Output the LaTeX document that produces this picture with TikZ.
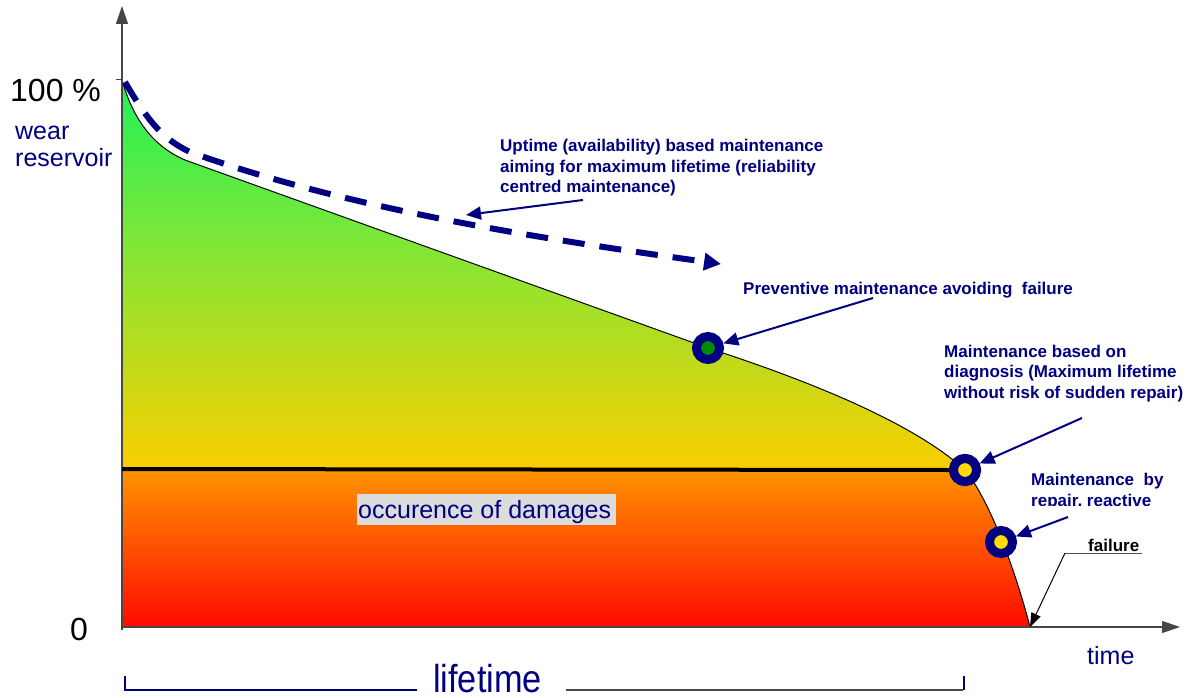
\documentclass[tikz,border=0pt]{standalone}
\usepackage{fontspec}
\setmainfont{Liberation Sans}
\usetikzlibrary{arrows.meta}
\definecolor{dnavy}{RGB}{0,0,128}
\definecolor{axisgray}{RGB}{70,70,70}
\definecolor{boxgray}{RGB}{220,220,220}
\definecolor{gtop}{RGB}{30,242,90}
\definecolor{gmid}{RGB}{145,228,48}
\definecolor{gbot}{RGB}{250,206,0}
\definecolor{otop}{RGB}{255,148,0}
\definecolor{obot}{RGB}{255,10,0}
\definecolor{dotgreen}{RGB}{0,140,0}
\definecolor{dotyellow}{RGB}{255,220,0}
\begin{document}
\begin{tikzpicture}[x=1pt,y=-1pt,
  note/.style={font=\bfseries\fontsize{17}{20.5}\selectfont, text=dnavy, align=left, anchor=base west, inner sep=0pt},
  ptr/.style={draw=dnavy, line width=2pt, -{Triangle[length=15pt,width=13pt]}},
  marker/.style={circle, draw=dnavy, line width=9pt, minimum size=23pt, inner sep=0pt},
  axis/.style={draw=axisgray, line width=1.2pt, -{Triangle[length=18pt,width=12pt]}},
  bignum/.style={font=\fontsize{32}{36}\selectfont, anchor=base west, inner sep=0pt},
  plain/.style={font=\fontsize{25}{27}\selectfont, text=dnavy, anchor=base west, inner sep=0pt, align=left},
]
\useasboundingbox (0,0) rectangle (1194,698);

% filled wear reservoir
\begin{scope}
\clip (122,80) .. controls (132,115) and (150,145) .. (185,160)
  -- (708,348) .. controls (800,378) and (910,420) .. (965,470)
  .. controls (988,498) and (1014,565) .. (1030,627) -- (122,627) -- cycle;
\shade[top color=gtop, bottom color=gbot, middle color=gmid] (122,78) rectangle (1032,469);
\shade[top color=otop, bottom color=obot] (122,469) rectangle (1032,628);
\end{scope}
\draw[black, line width=1pt] (122,80) .. controls (132,115) and (150,145) .. (185,160)
  -- (708,348) .. controls (800,378) and (910,420) .. (965,470)
  .. controls (988,498) and (1014,565) .. (1030,627);
\coordinate (fail) at (1030,627);

% axes
\coordinate (origin) at (122,627);
\coordinate (ytop) at (122,6);
\coordinate (xend) at (1180,627);
\draw[axis] (122,630) -- (ytop);
\draw[axis] (origin) -- (xend);
\draw[axisgray, line width=1pt] (116,80) -- (122,80);

% damage threshold
\coordinate (thr) at (122,469);
\node[marker, fill=dotyellow] (c2) at (965,470) {};
\draw[black, line width=4pt] (thr) -- (c2.west);
\node[marker, fill=dotyellow] (c2) at (965,470) {};
\node[marker, fill=dotgreen] (c1) at (708,348) {};
\node[marker, fill=dotyellow] (c3) at (1001,542) {};

% dashed uptime curve
\coordinate (ds) at (125,82);
\coordinate (de) at (721,264);
\draw[dnavy, line width=6pt, dash pattern=on 22pt off 15pt, -{Triangle[length=17pt,width=17pt]}]
  (ds) .. controls (150,125) and (165,140) .. (190,152)
  .. controls (350,210) and (550,240) .. (de);

% labels on axes
\node[bignum] (hundred) at (10,102) {100 \%};
\node[bignum] (zero) at (70,640) {0};
\node[plain] (wear) at (15,167) {wear\\reservoir};
\node[plain] (time) at (1087,664) {time};
\node[plain, font=\fontsize{39}{40}\selectfont] (life) at (433,692) {\scalebox{0.88}[1]{lifetime}};
\draw[dnavy, line width=1.5pt] (125,676) -- (125,690) -- (417,690);
\draw[axisgray, line width=1.5pt] (566,690) -- (963,690);
\draw[dnavy, line width=1.5pt] (964,690) -- (964,676);

% occurrence of damages
\fill[boxgray] (357,494) rectangle (616,525);
\node[plain] (occ) at (358,518) {occurence of damages};

% annotations
\node[note] (uptime) at (500,193) {Uptime (availability) based maintenance\\aiming for maximum lifetime (reliability\\centred maintenance)};
\coordinate (upA) at (583,200);
\coordinate (upB) at (466,215);
\draw[ptr] (upA) -- (upB);

\node[note] (prev) at (743,294) {Preventive maintenance avoiding\ \ failure};
\coordinate (prA) at (873,298);
\draw[ptr] (prA) -- (c1);

\node[note] (diag) at (944,398) {Maintenance based on\\diagnosis (Maximum lifetime\\without risk of sudden repair)};
\coordinate (diA) at (1082,418);
\draw[ptr] (diA) -- (c2);

\begin{scope}
\clip (1020,455) rectangle (1194,505);
\node[note] (repair) at (1031,506) {Maintenance\ \ by\\repair, reactive};
\end{scope}
\coordinate (reA) at (1068,517);
\draw[ptr] (reA) -- (c3);

\node[note, text=black] (failure) at (1088,551) {failure};
\coordinate (fu1) at (1142,553);
\coordinate (fu2) at (1065,553);
\draw[black!70, line width=1pt] (fu1) -- (fu2);
\draw[black, line width=1pt, -{Triangle[length=14pt,width=10pt]}] (fu2) -- (fail);
\end{tikzpicture}
\end{document}
